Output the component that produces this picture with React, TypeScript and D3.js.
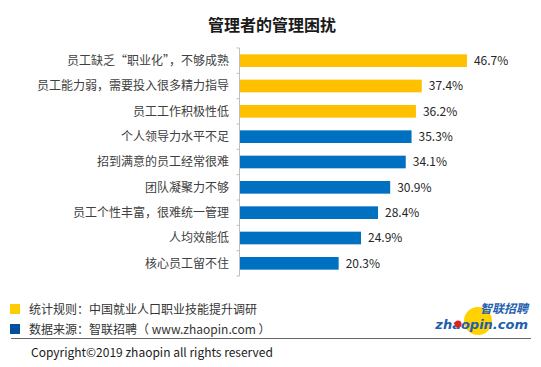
import React, { useEffect, useRef } from "react";
import * as d3 from "d3";

const categories = [
  "员工缺乏“职业化”，不够成熟",
  "员工能力弱，需要投入很多精力指导",
  "员工工作积极性低",
  "个人领导力水平不足",
  "招到满意的员工经常很难",
  "团队凝聚力不够",
  "员工个性丰富，很难统一管理",
  "人均效能低",
  "核心员工留不住",
];
const values = [46.7, 37.4, 36.2, 35.3, 34.1, 30.9, 28.4, 24.9, 20.3];
// first three bars are highlighted in yellow
const highlighted = 3;

const title = "管理者的管理困扰";
const notes = ["统计规则：中国就业人口职业技能提升调研", "数据来源：智联招聘（ www.zhaopin.com ）"];
const copyright = "Copyright©2019 zhaopin all rights reserved";

const FONT = "'Noto Sans CJK SC', 'Noto Sans', sans-serif";

const App = () => {
  const ref = useRef<SVGSVGElement>(null);

  useEffect(() => {
    document.body.style.margin = "0";
    const svg = d3.select(ref.current);
    svg.selectAll("*").remove();

    const width = 541, height = 367;
    svg.attr("width", width).attr("height", height).style("display", "block");
    svg.append("rect").attr("width", width).attr("height", height).attr("fill", "#fff");

    // Title
    svg.append("text")
      .attr("x", 272).attr("y", 31)
      .attr("text-anchor", "middle")
      .attr("font-family", FONT).attr("font-size", 16).attr("font-weight", "bold")
      .attr("fill", "#1a1a1a")
      .text(title);

    // Scales
    const x = d3.scaleLinear().domain([0, 50]).range([240, 483]);
    const y = d3.scaleBand()
      .domain(categories)
      .range([48, 276])
      .paddingInner(0.5)
      .paddingOuter(0.25);

    const chart = svg.append("g");

    // Axis line and ticks at band boundaries
    const axisX = 239.5;
    chart.append("line")
      .attr("x1", axisX).attr("x2", axisX)
      .attr("y1", 48).attr("y2", 276)
      .attr("stroke", "#bfbfbf");
    const boundaries = categories.map(c => (y(c) as number) - y.step() * 0.25).concat([276]);
    chart.selectAll(".tick")
      .data(boundaries)
      .enter()
      .append("line")
      .attr("x1", axisX - 3).attr("x2", axisX)
      .attr("y1", d => d).attr("y2", d => d)
      .attr("stroke", "#bfbfbf");

    // Bars
    chart.selectAll(".bar")
      .data(values)
      .enter()
      .append("rect")
      .attr("x", x(0))
      .attr("y", (d, i) => y(categories[i]) as number)
      .attr("width", d => x(d) - x(0))
      .attr("height", y.bandwidth())
      .attr("fill", (d, i) => (i < highlighted ? "#FFC000" : "#0070C0"));

    // Category labels
    chart.selectAll(".cat")
      .data(categories)
      .enter()
      .append("text")
      .attr("x", 229)
      .attr("y", d => (y(d) as number) + y.bandwidth() / 2)
      .attr("dy", "0.35em")
      .attr("text-anchor", "end")
      .attr("font-family", FONT).attr("font-size", 12)
      .attr("fill", "#404040")
      .text(d => d);

    // Value labels
    chart.selectAll(".val")
      .data(values)
      .enter()
      .append("text")
      .attr("x", d => x(d) + 7)
      .attr("y", (d, i) => (y(categories[i]) as number) + y.bandwidth() / 2)
      .attr("dy", "0.35em")
      .attr("font-family", FONT).attr("font-size", 12)
      .attr("fill", "#262626")
      .text(d => d.toFixed(1) + "%");

    // Footer notes
    const noteColors = ["#FFCC00", "#0050A0"];
    notes.forEach((t, i) => {
      const by = 314 + i * 20;
      svg.append("rect")
        .attr("x", 10).attr("y", by - 10).attr("width", 10).attr("height", 10)
        .attr("fill", noteColors[i]);
      svg.append("text")
        .attr("x", 29).attr("y", by)
        .attr("font-family", FONT).attr("font-size", 12)
        .attr("fill", "#333")
        .text(t);
    });

    svg.append("line")
      .attr("x1", 11).attr("x2", 531)
      .attr("y1", 338.5).attr("y2", 338.5)
      .attr("stroke", "#666").attr("stroke-width", 1);

    svg.append("text")
      .attr("x", 31).attr("y", 357)
      .attr("font-family", FONT).attr("font-size", 12)
      .attr("fill", "#1a1a1a")
      .text(copyright);

    // Logo
    const logo = svg.append("g");
    logo.append("circle").attr("cx", 478).attr("cy", 321).attr("r", 14).attr("fill", "#FFD200");
    logo.append("text")
      .attr("x", 528).attr("y", 313)
      .attr("text-anchor", "end")
      .attr("font-family", FONT).attr("font-size", 12).attr("font-weight", "bold")
      .attr("font-style", "italic")
      .attr("fill", "#1f5fae")
      .text("智联招聘");
    logo.append("text")
      .attr("x", 528).attr("y", 329)
      .attr("text-anchor", "end")
      .attr("font-family", "'DejaVu Sans', sans-serif").attr("font-size", 13).attr("font-weight", "bold")
      .attr("font-style", "italic")
      .attr("fill", "#1f5fae")
      .text("zhaopin.com");
    logo.append("circle").attr("cx", 458).attr("cy", 324).attr("r", 3.5).attr("fill", "#d9261c");
  }, []);

  return <svg ref={ref}></svg>;
};

export default App;
